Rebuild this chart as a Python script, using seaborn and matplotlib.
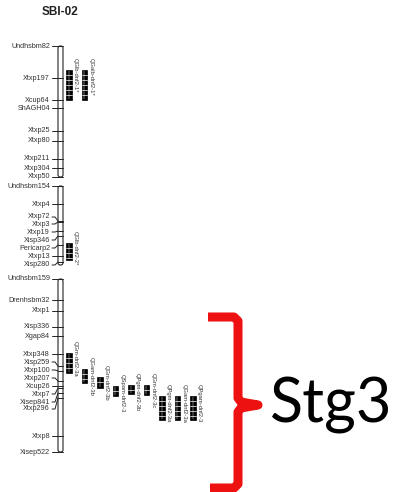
import seaborn as sns
import matplotlib.pyplot as plt
from matplotlib.patches import FancyBboxPatch

sns.set_theme(style='white')
plt.rcParams['font.family'] = ['Liberation Sans', 'DejaVu Sans']

# linkage groups on SBI-02 (start, end) in map units
groups = [(46, 177), (186, 265), (279, 452)]

# markers: name, position on chromosome, label position
markers = ["Undhsbm82", "Xtxp197", "Xcup64", "ShAGH04", "Xtxp25", "Xtxp80",
           "Xtxp211", "Xtxp304", "Xtxp50",
           "Undhsbm154", "Xtxp4", "Xtxp72", "Xtxp3", "Xtxp19", "Xisp346",
           "Pericarp2", "Xtxp13", "Xisp280",
           "Undhsbm159", "Drenhsbm32", "Xtxp1", "Xisp336", "Xgap84", "Xtxp348",
           "Xisp259", "Xtxp100", "Xtxp207", "Xcup26", "Xtxp7", "Xisep841",
           "Xtxp296", "Xtxp8", "Xisep522"]
marker_pos = [46, 78, 100, 108, 131, 141, 159, 168, 177,
              186, 204, 221, 222, 231, 236, 245, 256, 262,
              279, 300, 311, 327, 336, 354, 366, 371, 381, 386, 388, 393,
              398, 436, 452]
label_pos = [46, 78, 100, 108, 131, 141, 159, 168, 177,
             186, 204, 217, 224, 232, 240, 248, 256, 265,
             279, 300, 311, 327, 336, 354, 362, 370, 378, 386, 394, 402,
             409, 436, 452]

# QTL intervals
qtl_names = ["QGlb-dnf2-1*", "QGalb-dnf2-1*", "QGlb-dnf2-2*",
             "QGm-dnf2-3a", "QGam-dnf2-3b", "QGm-dnf2-3b", "QSpam-dnf2-3",
             "QPgm-dnf2-3b", "QGm-dnf2-3c", "QPgm-dnf2-3a", "QGam-dnf2-3a",
             "QPgam-dnf2-3"]
qtl_start = [70, 70, 243, 353, 369, 377, 386, 385, 385, 396, 396, 396]
qtl_end = [100, 100, 260, 373, 383, 388, 396, 394, 395, 420, 420, 420]
qtl_col = [1, 2, 1, 1, 2, 3, 4, 5, 6, 7, 8, 9]

fig = plt.figure(figsize=(4, 4.92), dpi=100)
ax = fig.add_axes([0, 0, 1, 1])
ax.set_xlim(0, 400)
ax.set_ylim(492, 0)
ax.axis('off')

chrom_x, chrom_w = 58, 5
for g0, g1 in groups:
    ax.add_patch(FancyBboxPatch((chrom_x, g0), chrom_w, g1 - g0,
                                boxstyle="round,pad=0,rounding_size=2.2",
                                fc='white', ec='#222222', lw=0.8))

for name, p, lp in zip(markers, marker_pos, label_pos):
    ax.plot([chrom_x, chrom_x + chrom_w], [p, p], color='#222222', lw=0.7)
    if p == lp:
        ax.plot([52, chrom_x], [p, p], color='#222222', lw=0.7)
    else:
        ax.plot([52, 55, chrom_x], [lp, lp, p], color='#222222', lw=0.7)
    ax.text(50, lp, name, ha='right', va='center', fontsize=5.2,
            color='#333333')

col_x0, col_step, box_w = 66, 15.5, 5.5
for name, s, e, c in zip(qtl_names, qtl_start, qtl_end, qtl_col):
    x = col_x0 + (c - 1) * col_step
    ax.bar(x + box_w / 2, e - s, bottom=s, width=box_w, color='black',
           edgecolor='black', lw=0.5)
    k = s + 5
    while k < e - 1:
        ax.plot([x, x + box_w], [k, k], color='white', lw=0.5)
        k += 5
    ax.plot([x + box_w / 2] * 2, [s + 1, e - 1], color='white', lw=0.3)
    ax.text(x + box_w + 1.5, s - 12, name, rotation=-90, ha='left', va='top',
            fontsize=4.2, color='#333333')

ax.text(60, 12, "SBI-02", ha='center', va='center', fontsize=8.5,
        fontweight='bold', color='#222222')

# red brace
red = '#ee1111'
ax.plot([208, 234, 238, 238, 241, 258, 241, 238, 238, 234, 210],
        [317, 317, 321, 398, 402, 405, 408, 412, 484, 488, 488],
        color=red, lw=6.5, solid_joinstyle='round', solid_capstyle='butt')
ax.text(270, 405, "Stg3", ha='left', va='center', fontsize=44,
        family=['Lato', 'DejaVu Sans'], color='black')

fig.savefig('out.png', dpi=100)
